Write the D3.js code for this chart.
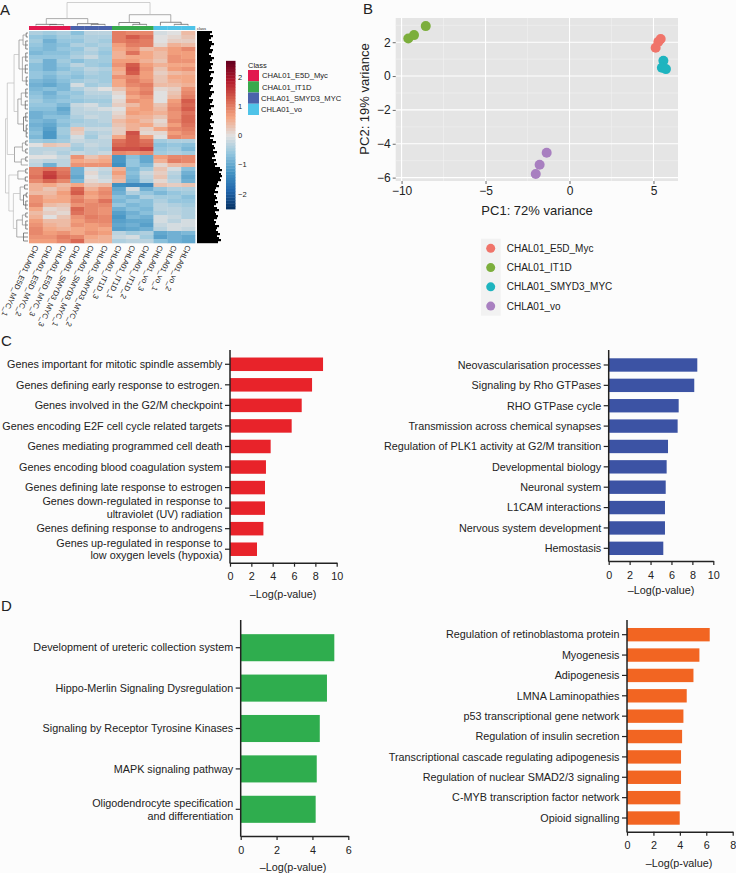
<!DOCTYPE html>
<html><head><meta charset="utf-8">
<script src="https://cdn.jsdelivr.net/npm/d3@7"></script>
<style>
html,body{margin:0;padding:0;background:#fcfcfc}
svg{display:block}
text{font-family:"Liberation Sans",Arial,sans-serif;fill:#222}
</style></head><body>
<div id="c"></div>
<script>
// ---------- Panel A data ----------
const heatColumns=["CHLA01_E5D_MYC_1","CHLA01_E5D_MYC_2","CHLA01_E5D_MYC_3","CHLA01_SMYD3_MYC_3","CHLA01_SMYD3_MYC_1","CHLA01_SMYD3_MYC_2","CHLA01_IT1D_3","CHLA01_IT1D_1","CHLA01_IT1D_2","CHLA01_vo_3","CHLA01_vo_1","CHLA01_vo_2"];
const classNames=["CHAL01_E5D_Myc","CHAL01_IT1D","CHLA01_SMYD3_MYC","CHLA01_vo"];
const classColors=["#e2184f","#38a94c","#4a62ab","#4fc3e8"];
const columnClass=[0,0,0,2,2,2,1,1,1,3,3,3];
const heatRows=[
[-.4,-.5,-.4,-.7,-.3,-.3,1.0,.9,.9,-.1,0,.4],
[-.6,-.7,-.5,-.5,-.4,-.4,1.0,1.3,1.1,0,.1,.3],
[-.5,-.9,-.6,-.6,-.4,-.5,1.0,1.1,1.0,0,.2,.2],
[-.6,-.8,-.7,-.4,-.5,-.4,.7,1.0,1.0,.1,.5,.4],
[-.7,-.8,-.6,-.6,-.3,-.5,.6,.8,.4,.5,.7,.9],
[-.8,-.7,-.7,-.5,-.4,-.6,.5,1.1,.6,.4,.7,.7],
[-.6,-.6,-.6,-.4,-.2,-.5,.5,.6,.6,.4,.8,.7],
[-.5,-.9,-.5,-.7,-.5,-.5,.7,.7,.5,.3,.8,.8],
[-.7,-.9,-.6,-.3,-.5,-.6,.8,1.3,.7,.5,.6,.6],
[-.7,-.9,-.7,-.5,-.3,-.4,.6,1.4,.8,.3,.7,.8],
[-.6,-.7,-.5,-.6,-.4,-.5,.5,1.3,.7,.2,.4,.5],
[-.6,-.8,-.6,-.7,-.5,-.5,.8,.9,.7,.3,.6,.6],
[-.8,-.9,-.7,-.5,-.4,-.5,.6,1.0,.8,.3,.5,.6],
[-.9,-1.0,-.8,-.1,-.5,-.4,.6,.9,1.0,.4,.4,.5],
[-.8,-.7,-.8,-.4,-.2,.0,.3,.7,.9,.1,.2,.8],
[-.7,-.9,-.6,-.6,-.3,-.3,.1,.8,1.0,.0,.3,.9],
[-.6,-.8,-.7,-.5,-.4,-.4,.0,.6,.8,.0,.4,1.0],
[-.5,-.7,-.6,-.6,-.5,-.5,.1,.8,.7,.0,.7,1.3],
[-.6,-.6,-.8,-.2,-.1,-.4,.2,.4,.7,.3,.8,1.2],
[-.7,-.7,-1.0,-.3,-.2,-.1,.0,.6,.7,.4,.9,1.3],
[-.9,-.8,-.9,-.3,-.3,-.3,.1,.7,.6,.5,.8,1.1],
[-.9,-.7,-.7,-.4,-.2,-.3,.2,.5,.5,.3,.8,1.2],
[-.8,-.9,-.6,-.5,-.4,-.3,.4,.6,.4,.1,.9,1.2],
[-.9,-1.0,-.7,-.4,-.4,-.4,.3,.5,.6,.2,.7,1.1],
[-.8,-1.1,-.5,.3,-.2,-.2,.2,.5,.2,.6,.9,1.0],
[-.7,-1.2,-.5,.2,-.4,-.3,.2,1.4,.1,.1,.7,.9],
[-.8,-1.2,-.6,-.1,-.5,-.2,.6,1.3,.7,.0,.9,.8],
[-.5,-.6,-.5,-.2,-.3,-.3,1.1,1.3,1.1,-.5,-.4,-.4],
[.0,.3,.2,-.4,-.2,-.3,1.2,1.3,1.2,-.7,-.6,-.7],
[-.3,-.3,-.3,-.5,-.3,-.4,1.4,1.4,1.5,-.6,-.5,-.8],
[-.3,-.2,-.4,-.2,-.3,-.2,.9,.8,.9,-.5,-.4,-.5],
[.0,.0,-.2,.8,.3,.5,-1.2,-.7,-1.0,.7,.9,.9],
[-.2,-.3,-.3,.6,.5,.6,-1.2,-.6,-1.0,.5,1.0,.9],
[-.3,-.9,-.3,.8,.8,.8,-1.3,-.6,-.8,.1,.4,.5],
[1.0,1.1,1.0,-.9,-.1,-.2,.5,-.8,-.5,.3,-.1,-.7],
[1.0,1.5,1.1,-.9,.1,-.3,.7,-.7,-.2,.2,-.3,-.9],
[1.1,1.6,1.2,-1.0,0,-.2,.5,-.8,-.3,.3,-.4,-1.0],
[.9,1.2,.9,-.8,.1,-.1,.4,-.9,-.4,.1,-.3,-.9],
[.5,.6,.4,.6,.3,.4,-1.3,-1.4,-1.4,.3,.2,.3],
[.5,.3,.5,1.2,.5,.8,-1.0,-.1,-.9,-.6,-.4,-.4],
[.4,.4,.7,1.3,.7,.9,-.9,-.4,-.6,-.8,-.6,-.5],
[.8,.5,.6,.9,.6,.8,-.7,-.8,-.4,-.5,-.5,-.7],
[.8,.6,.6,1.0,.8,1.1,-.8,-.6,-.7,-.4,-.6,-.6],
[.9,.4,.3,.8,.9,.9,-.6,-.8,-.7,-.3,-.4,-.5],
[.6,.1,.2,1.2,.9,.8,-.9,-.7,-.8,-.3,-.3,-.4],
[.4,.2,.1,1.1,.9,.8,-1.1,-.9,-.7,-.4,-.3,-.4],
[.5,.0,.3,.8,1.0,.9,-1.2,-.8,-.9,-.1,-.2,-.4],
[.7,.4,.4,.7,.9,.9,-1.1,-1.0,-1.0,-.1,-.3,-.1],
[.8,.5,.4,.8,.7,.8,-1.0,-.9,-1.1,-.2,-.1,-.1],
[.9,.6,.5,.6,.7,.6,-1.1,-1.0,-.9,-.3,-.1,-.2],
[.9,.7,.8,.6,.8,.7,-.3,-.5,-.4,-1.0,-.9,-.8],
[.8,.8,1.0,.9,.6,.5,-.2,-.1,-.5,-1.1,-.9,-1.0],
[.7,.7,.9,1.2,.5,.5,-.4,-.3,-.3,-.7,-.9,-1.0]];
// extent of the unreadable, overprinted gene labels, two entries per heat-map row
const geneLabelLength=[15,13,16,14,12,15,17,14,13,16,15,12,14,17,15,13,16,14,15,12,17,14,13,16,15,14,12,16,14,13,17,15,14,12,16,15,13,17,14,12,15,16,14,13,15,17,13,14,16,12,15,14,17,13,
16,19,15,17,18,16,20,17,18,15,19,17,20,18,
23,25,22,24,25,23,24,21,
20,22,19,18,21,17,19,20,18,21,19,17,20,22,18,19,21,20,17,19,18,22,20,19,21,23,20,22,24,21];
const columnTree=[1,[.3,[.05,0,[.04,1,2]],[.08,3,[.05,4,5]]],[.47,[.13,6,[.05,7,8]],[.14,9,[.05,10,11]]]];
const rowTree=[1,
 [.92,
  [.62,
   [.4,[.22,[.08,0,1],[.1,2,3,4]],[.25,[.1,5,6,7],[.12,8,9,10],[.08,11,12,13]]],
   [.45,[.3,[.1,14,15,16],[.12,17,18,19]],[.2,[.1,20,21,22],[.08,23,24,25,26]]]],
  [.6,[.25,[.1,27,28],[.1,29,30]],[.3,[.1,31,32],33]]],
 [.85,
  [.45,[.1,34,35],[.12,36,37]],
  [.65,[.35,[.15,38,39],[.2,[.08,40,41],[.1,42,43,44]]],[.5,[.25,[.1,45,46],[.1,47,48,49]],[.2,50,51,52]]]]];
const heatColorStops=["#053061","#2166ac","#4393c3","#92c5de","#e0e0e0","#f4a582","#d6604d","#b2182b","#67001f"];
const colorTicks=[-2,-1,0,1,2];

// ---------- Panel B data ----------
const pcaGroups=["CHAL01_E5D_Myc","CHAL01_IT1D","CHLA01_SMYD3_MYC","CHLA01_vo"];
const pcaColors=["#f0746a","#7cae3c","#1eb4bf","#a87fc0"];
const pc1E5D=[5.13,5.29,5.43], pc2E5D=[1.67,2.03,2.19];
const pc1IT1D=[-9.6,-9.26,-8.56], pc2IT1D=[2.22,2.42,2.95];
const pc1SMYD3=[5.59,5.5,5.74], pc2SMYD3=[.9,.49,.41];
const pc1Vo=[-1.36,-1.78,-2.01], pc2Vo=[-4.53,-5.24,-5.79];

// ---------- Panels C and D data ----------
const redTerms=["Genes important for mitotic spindle assembly","Genes defining early response to estrogen.","Genes involved in the G2/M checkpoint","Genes encoding E2F cell cycle related targets","Genes mediating programmed cell death","Genes encoding blood coagulation system","Genes defining late response to estrogen","Genes down-regulated in response to\nultraviolet (UV) radiation","Genes defining response to androgens","Genes up-regulated in response to\nlow oxygen levels (hypoxia)"];
const redValues=[8.72,7.69,6.72,5.78,3.81,3.37,3.28,3.28,3.13,2.53];
const blueTerms=["Neovascularisation processes","Signaling by Rho GTPases","RHO GTPase cycle","Transmission across chemical synapses","Regulation of PLK1 activity at G2/M transition","Developmental biology","Neuronal system","L1CAM interactions","Nervous system development","Hemostasis"];
const blueValues=[8.47,8.18,6.69,6.59,5.67,5.54,5.45,5.38,5.38,5.22];
const greenTerms=["Development of ureteric collection system","Hippo-Merlin Signaling Dysregulation","Signaling by Receptor Tyrosine Kinases","MAPK signaling pathway","Oligodendrocyte specification\nand differentiation"];
const greenValues=[5.22,4.81,4.41,4.24,4.18];
const orangeTerms=["Regulation of retinoblastoma protein","Myogenesis","Adipogenesis","LMNA Laminopathies","p53 transcriptional gene network","Regulation of insulin secretion","Transcriptional cascade regulating adipogenesis","Regulation of nuclear SMAD2/3 signaling","C-MYB transcription factor network","Opioid signalling"];
const orangeValues=[6.26,5.48,5.03,4.52,4.27,4.17,4.09,4.09,4.04,3.99];
const axisTitle="\u2013Log(p-value)";

const svg=d3.select("#c").append("svg").attr("width",736).attr("height",873);
svg.append("rect").attr("width",736).attr("height",873).attr("fill","#fcfcfc");
const defs=svg.append("defs");
defs.append("filter").attr("id","soft").attr("x","-2%").attr("y","-2%").attr("width","104%").attr("height","104%")
  .append("feGaussianBlur").attr("stdDeviation","0.4 0.6");

[["A",0,15],["B",363,14],["C",1,346],["D",1,611]].forEach(([t,x,y])=>
  svg.append("text").attr("x",x).attr("y",y).attr("font-size",15).text(t));

// ---------- heat map ----------
const HX0=29,HX1=195,HY0=31,HY1=243;
const hx=d3.scaleBand().domain(d3.range(heatColumns.length)).range([HX0,HX1]);
const hy=d3.scaleBand().domain(d3.range(heatRows.length)).range([HY0,HY1]);
const heatDomain=heatColorStops.map((_,i)=>-2.53+i*5.06/(heatColorStops.length-1));
const heatColor=d3.scaleLinear().domain(heatDomain).range(heatColorStops);
const gh=svg.append("g").attr("filter","url(#soft)");
heatRows.forEach((row,r)=>{
  gh.selectAll(null).data(row).join("rect")
    .attr("x",(d,c)=>hx(c)).attr("y",hy(r)).attr("width",hx.bandwidth()+.3).attr("height",hy.bandwidth()+.3)
    .attr("fill",d=>heatColor(d));
});
svg.append("g").selectAll("rect").data(columnClass).join("rect")
  .attr("x",(d,c)=>hx(c)).attr("y",26).attr("width",hx.bandwidth()+.3).attr("height",4)
  .attr("fill",d=>classColors[d]);
svg.append("text").attr("x",197).attr("y",29.5).attr("font-size",4).attr("fill","#000").text("class");
const hyLabel=d3.scaleBand().domain(d3.range(geneLabelLength.length)).range([HY0,HY1]);
svg.append("g").selectAll("rect").data(geneLabelLength).join("rect")
  .attr("x",197).attr("y",(d,i)=>hyLabel(i)).attr("width",d=>d).attr("height",hyLabel.bandwidth()+.2).attr("fill","#000");

// column labels
svg.append("g").selectAll("text").data(heatColumns).join("text")
  .attr("transform",(d,i)=>`translate(${hx(i)+hx.bandwidth()/2+.5},246) rotate(115)`)
  .attr("font-size",7.6).attr("dy","0.35em").attr("fill","#333").text(d=>d);

// dendrograms
function drawTree(tree,leafPos,heightPos,horizontal,g){
  function walk(n){
    if(typeof n==="number") return {p:leafPos(n),h:heightPos(0)};
    const kids=n.slice(1).map(walk), h=heightPos(n[0]);
    const ps=kids.map(k=>k.p);
    const seg=(a1,b1,a2,b2,col)=>g.append("line")
      .attr("x1",horizontal?a1:b1).attr("y1",horizontal?b1:a1)
      .attr("x2",horizontal?a2:b2).attr("y2",horizontal?b2:a2)
      .attr("stroke",col).attr("stroke-width",.7);
    const col=n[0]>.6?"#bdbdbd":(n[0]>.2?"#8a8a8a":"#555");
    seg(d3.min(ps),h,d3.max(ps),h,col);
    kids.forEach(k=>seg(k.p,k.h,k.p,h,col));
    return {p:(d3.min(ps)+d3.max(ps))/2,h};
  }
  walk(tree);
}
const colH=d3.scaleLinear().domain([0,1]).range([25.5,2.5]);
drawTree(columnTree,i=>hx(i)+hx.bandwidth()/2,colH,true,svg.append("g"));
const rowH=d3.scaleLinear().domain([0,1]).range([28,5.5]);
drawTree(rowTree,i=>hy(i)+hy.bandwidth()/2,rowH,false,svg.append("g"));

// colour bar
const barY=d3.scaleLinear().domain([-2.53,2.53]).range([209,62]);
const steps=d3.range(-2.53,2.53,0.1);
svg.append("g").selectAll("rect").data(steps).join("rect")
  .attr("x",226).attr("width",9.5).attr("y",d=>barY(d+0.1)).attr("height",barY(0)-barY(0.1)+.4)
  .attr("fill",d=>heatColor(d+.05));
const barAxis=d3.axisRight(barY).tickValues(colorTicks).tickFormat(d3.format("d")).tickSize(0).tickPadding(3);
const bg=svg.append("g").attr("transform","translate(235,0)").call(barAxis);
bg.select(".domain").remove();
bg.selectAll("text").attr("font-size",7.5).attr("font-family","Liberation Sans").attr("fill","#333");

// class legend
svg.append("text").attr("x",248).attr("y",68).attr("font-size",7.5).text("Class");
const legY=d3.scaleBand().domain(classNames).range([70,115]);
svg.append("g").selectAll("rect").data(classNames).join("rect")
  .attr("x",248).attr("width",11).attr("y",d=>legY(d)).attr("height",legY.bandwidth())
  .attr("fill",(d,i)=>classColors[i]);
svg.append("g").selectAll("text").data(classNames).join("text")
  .attr("x",(d,i)=>i<2?262:261).attr("y",d=>legY(d)+legY.bandwidth()/2).attr("dy","0.35em")
  .attr("font-size",7.6).attr("fill","#222").text(d=>d);

// ---------- PCA ----------
const px=d3.scaleLinear().domain([-10.35,6.46]).range([395.7,678]);
const py=d3.scaleLinear().domain([-6.2,3.43]).range([181,18]);
const gp=svg.append("g");
gp.append("rect").attr("x",px.range()[0]).attr("y",py.range()[1])
  .attr("width",px.range()[1]-px.range()[0]).attr("height",py.range()[0]-py.range()[1]).attr("fill","#e5e5e5");
const xT=[-10,-5,0,5], yT=[-6,-4,-2,0,2];
const xM=[-7.5,-2.5,2.5], yM=[-5,-3,-1,1,3];
gp.selectAll(".xm").data(xM).join("line").attr("class","xm").attr("x1",px).attr("x2",px).attr("y1",18).attr("y2",181).attr("stroke","#f2f2f2").attr("stroke-width",.6);
gp.selectAll(".ym").data(yM).join("line").attr("class","ym").attr("y1",py).attr("y2",py).attr("x1",395.7).attr("x2",678).attr("stroke","#f2f2f2").attr("stroke-width",.6);
gp.selectAll(".xg").data(xT).join("line").attr("class","xg").attr("x1",px).attr("x2",px).attr("y1",18).attr("y2",181).attr("stroke","#fff").attr("stroke-width",1.1);
gp.selectAll(".yg").data(yT).join("line").attr("class","yg").attr("y1",py).attr("y2",py).attr("x1",395.7).attr("x2",678).attr("stroke","#fff").attr("stroke-width",1.1);
const ax=gp.append("g").attr("transform","translate(0,181)").call(d3.axisBottom(px).tickValues(xT).tickSize(3).tickPadding(2));
const ay=gp.append("g").attr("transform","translate(395.7,0)").call(d3.axisLeft(py).tickValues(yT).tickSize(3).tickPadding(2));
[ax,ay].forEach(a=>{a.select(".domain").remove();
  a.selectAll("line").attr("stroke","#444").attr("stroke-width",.8);
  a.selectAll("text").attr("font-size",12).attr("font-family","Liberation Sans").attr("fill","#222");});
gp.append("text").attr("x",537).attr("y",214.5).attr("text-anchor","middle").attr("font-size",13).text("PC1: 72% variance");
gp.append("text").attr("transform","translate(369,99) rotate(-90)").attr("text-anchor","middle").attr("font-size",13).text("PC2: 19% variance");
[[pc1E5D,pc2E5D],[pc1IT1D,pc2IT1D],[pc1SMYD3,pc2SMYD3],[pc1Vo,pc2Vo]].forEach(([xs,ys],g)=>{
  gp.append("g").selectAll("circle").data(xs).join("circle")
    .attr("cx",d=>px(d)).attr("cy",(d,i)=>py(ys[i])).attr("r",5).attr("fill",pcaColors[g]);
});
const kY=d3.scaleBand().domain(pcaGroups).range([238.7,315.7]);
gp.append("rect").attr("x",481).attr("y",238.7).attr("width",19.7).attr("height",77).attr("fill","#f2f2f2");
gp.append("g").selectAll("circle").data(pcaGroups).join("circle")
  .attr("cx",490.7).attr("cy",d=>kY(d)+kY.bandwidth()/2).attr("r",4.5).attr("fill",(d,i)=>pcaColors[i]);
gp.append("g").selectAll("text").data(pcaGroups).join("text")
  .attr("x",506.7).attr("y",d=>kY(d)+kY.bandwidth()/2).attr("dy","0.35em").attr("font-size",10).text(d=>d);

// ---------- bars ----------
function barPanel(o){
  const fs=10.8;
  const g=svg.append("g");
  const x=d3.scaleLinear().domain([0,o.max]).range([o.x0,o.x1]);
  const y=d3.scaleBand().domain(o.terms).range([o.yA,o.yB]).paddingInner(o.pad).paddingOuter(o.pad/2);
  g.selectAll("rect").data(o.values).join("rect")
    .attr("x",o.x0).attr("y",(d,i)=>y(o.terms[i])).attr("width",d=>x(d)-o.x0).attr("height",y.bandwidth()).attr("fill",o.color);
  const gx=g.append("g").attr("transform",`translate(0,${o.base})`)
    .call(d3.axisBottom(x).ticks(o.max/2).tickSize(4).tickPadding(6).tickSizeOuter(0));
  const gy=g.append("g").attr("transform",`translate(${o.x0},0)`)
    .call(d3.axisLeft(y).tickSize(5).tickPadding(2.5).tickSizeOuter(0));
  gy.select(".domain").remove();
  g.append("line").attr("x1",o.x0).attr("x2",o.x0).attr("y1",o.top).attr("y2",o.base+.7).attr("stroke","#222").attr("stroke-width",1.5);
  gx.select(".domain").attr("stroke","#222").attr("stroke-width",1.5);
  [gx,gy].forEach(a=>a.selectAll("line").attr("stroke","#222").attr("stroke-width",1.2));
  gx.selectAll("text").attr("font-size",fs).attr("font-family","Liberation Sans").attr("fill","#222");
  gy.selectAll("text").each(function(d){
    const t=d3.select(this), lines=d.split("\n");
    t.text(null).attr("font-size",fs).attr("font-family","Liberation Sans").attr("fill","#222").attr("dy",null);
    lines.forEach((l,i)=>t.append("tspan").attr("x",-7.5)
      .attr("dy",i===0?`${0.35-(lines.length-1)*0.6}em`:"1.2em").text(l));
  });
  g.append("text").attr("x",o.tx).attr("y",o.ty).attr("text-anchor","middle").attr("font-size",fs).text(axisTitle);
}
barPanel({terms:redTerms,values:redValues,color:"#e8232a",max:10,x0:230,x1:336.7,yA:354,yB:559.5,pad:.343,base:562.7,top:350,tx:283,ty:598});
barPanel({terms:blueTerms,values:blueValues,color:"#3c53a4",max:10,x0:608.7,x1:713.3,yA:354.8,yB:558.5,pad:.343,base:561,top:350,tx:661,ty:594});
barPanel({terms:greenTerms,values:greenValues,color:"#2fad4e",max:6,x0:240.7,x1:348.3,yA:627.5,yB:829.5,pad:.33,base:836,top:620,tx:293,ty:871});
barPanel({terms:orangeTerms,values:orangeValues,color:"#f26522",max:8,x0:627,x1:732.7,yA:624.5,yB:828.2,pad:.343,base:831.7,top:620,tx:679,ty:867});
</script>
</body></html>
